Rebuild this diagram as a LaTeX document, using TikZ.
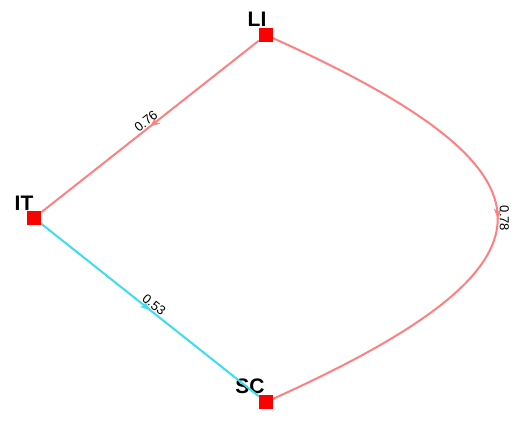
\documentclass[tikz,border=0pt]{standalone}
\usepackage{fontspec}
\setmainfont{Liberation Sans}
\usepackage{xcolor}
\usetikzlibrary{arrows.meta,decorations.markings,positioning}

\definecolor{edgered}{HTML}{FF8080}
\definecolor{edgecyan}{HTML}{3CDCF5}

\begin{document}
\begin{tikzpicture}[
    x=1pt, y=1pt,
    vert/.style={rectangle, fill=red, minimum size=14pt, inner sep=0pt},
    vertlbl/.style={font=\fontsize{21}{21}\selectfont\bfseries, text=black, inner sep=1pt},
    midarrow/.style={decoration={markings, mark=at position 0.5 with {\arrow{Stealth[length=10pt,width=8pt]}}}, postaction={decorate}},
    link/.style={line width=2pt, midarrow},
    weight/.style={font=\fontsize{13}{13}\selectfont, text=black, sloped, above, inner sep=1pt}
]
\useasboundingbox (0,0) rectangle (521,425);

% Vertices
\node[vert, label={[vertlbl, anchor=south, xshift=-9pt]above:LI}] (li) at (266,390) {};
\node[vert, label={[vertlbl, anchor=south, xshift=-10pt, yshift=-1pt]above:IT}] (it) at (34,207) {};
\node[vert, label={[vertlbl, anchor=south, xshift=-16pt]above:SC}] (sc) at (266,23) {};

% Edges
\draw[link, edgered] (li) -- node[weight] {0.76} (it);
\draw[link, edgecyan] (it) -- node[weight] {0.53} (sc);
\draw[link, edgered] (li.center) .. controls (575,252) and (575,161) .. node[weight] {0.78} (sc.center);

% redraw squares on top
\node[vert] at (li) {};
\node[vert] at (it) {};
\node[vert] at (sc) {};

\end{tikzpicture}
\end{document}
